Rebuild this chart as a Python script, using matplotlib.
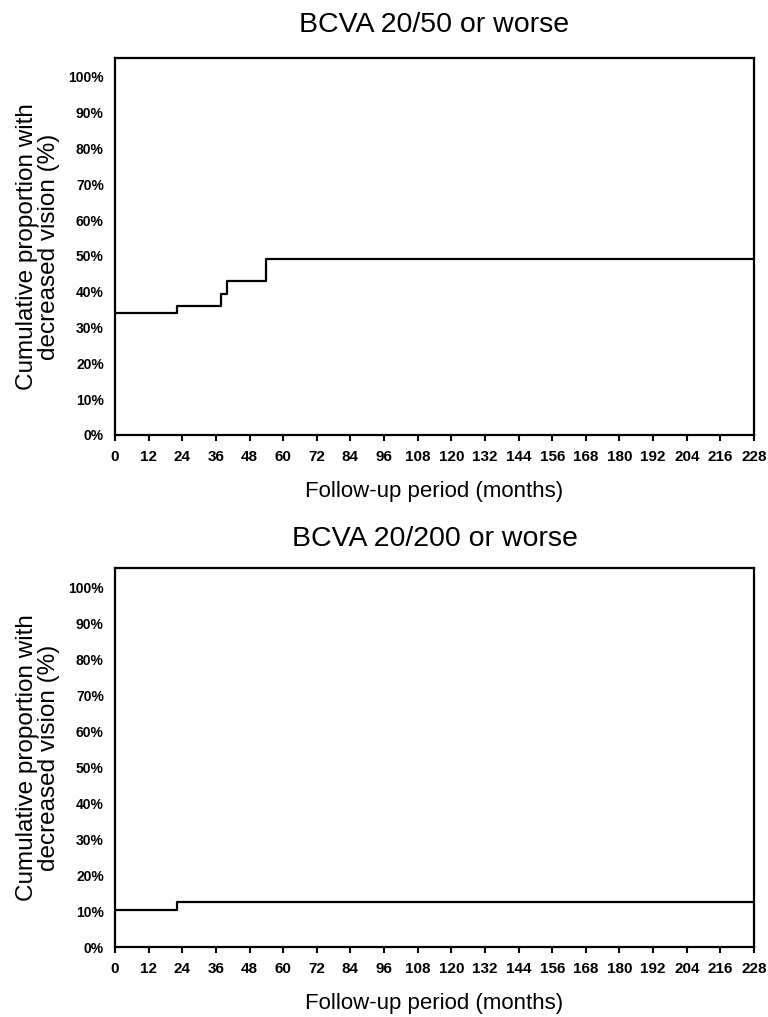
import matplotlib
matplotlib.use("Agg")
import matplotlib.pyplot as plt
from matplotlib.ticker import FuncFormatter

plt.rcParams['font.family'] = ['Liberation Sans', 'DejaVu Sans']

# Kaplan-Meier style step data (months, cumulative %)
t_2050 = [0, 22, 38, 40, 54, 228]
p_2050 = [34.0, 36.0, 39.3, 42.9, 49.2, 49.2]

t_20200 = [0, 22, 228]
p_20200 = [10.3, 12.6, 12.6]

titles = ['BCVA 20/50 or worse', 'BCVA 20/200 or worse']
xticks = list(range(0, 229, 12))
yticks = list(range(0, 101, 10))

fig = plt.figure(figsize=(7.68, 10.17), dpi=100)
ax1 = fig.add_axes([0.1497, 0.5723, 0.8321, 0.3707])
ax2 = fig.add_axes([0.1497, 0.0688, 0.8321, 0.3727])

for ax, t, p, title, tpad in [(ax1, t_2050, p_2050, titles[0], 19),
                              (ax2, t_20200, p_20200, titles[1], 16)]:
    ax.step(t, p, where='post', color='black', lw=1.6)
    ax.set_xlim(0, 228)
    ax.set_ylim(0, 105.3)
    ax.set_xticks(xticks)
    ax.set_yticks(yticks)
    ax.yaxis.set_major_formatter(FuncFormatter(lambda v, pos: f'{int(v)}%'))
    ax.tick_params(axis='x', direction='out', length=4, width=1.5, pad=7)
    ax.tick_params(axis='y', length=0, pad=8)
    for lbl in ax.get_xticklabels():
        lbl.set_fontweight('bold')
        lbl.set_fontsize(11)
    for lbl in ax.get_yticklabels():
        lbl.set_fontweight('bold')
        lbl.set_fontsize(10)
    for s in ax.spines.values():
        s.set_linewidth(1.6)
    ax.set_title(title, fontsize=20.5, pad=tpad)
    ax.set_xlabel('Follow-up period (months)', fontsize=16, labelpad=12)
    ax.set_ylabel('Cumulative proportion with\ndecreased vision (%)', fontsize=17.5,
                  labelpad=6, linespacing=1.0)

fig.savefig('out.png', dpi=100)
